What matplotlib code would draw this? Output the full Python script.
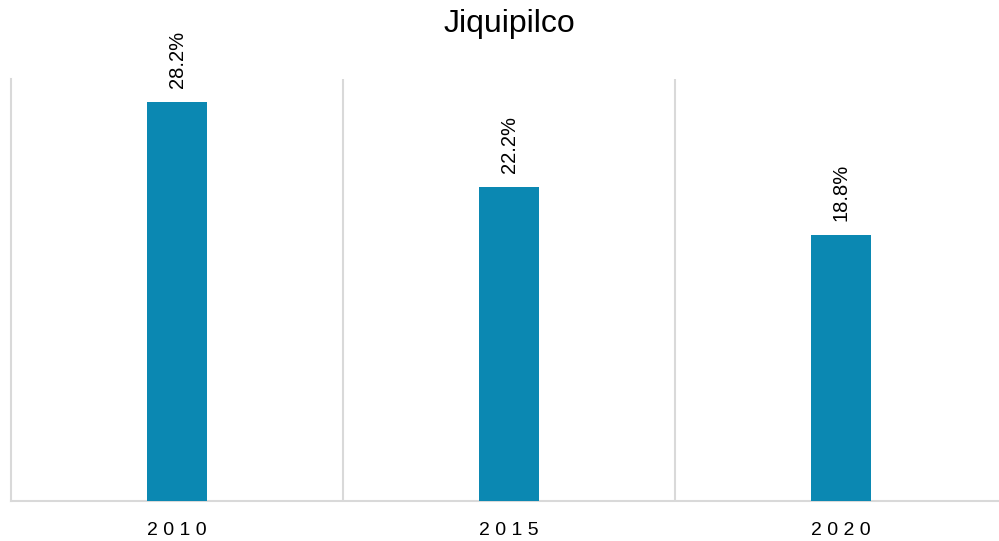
import numpy as np
import matplotlib.pyplot as plt

plt.rcParams['font.family'] = ['Liberation Sans', 'DejaVu Sans']

years = ['2010', '2015', '2020']
values = [28.2, 22.2, 18.8]
labels = ['28.2%', '22.2%', '18.8%']

fig = plt.figure(figsize=(9.99, 5.41), dpi=100)
ax = fig.add_axes([11/999, 40/541, 996/999, 422/541])

x = np.arange(len(years))
bars = ax.bar(x, values, width=0.18, color='#0B88B2', zorder=3)

for b, lab in zip(bars, labels):
    ax.annotate(lab, (b.get_x() + b.get_width()/2, b.get_height()),
                xytext=(0, 10), textcoords='offset points',
                ha='center', va='bottom', rotation=90, fontsize=14.5, color='#000000')

ax.set_xlim(-0.5, 2.5)
ax.set_ylim(0, 29.8)

# vertical separators between categories
ax.set_xticks(x + 0.5, minor=True)
ax.grid(axis='x', which='minor', color='#D9D9D9', linewidth=1.5)
ax.set_xticks(x)
ax.set_xticklabels([' '.join(y) for y in years], fontsize=14, color='#000000')
ax.tick_params(axis='x', which='both', length=0, pad=15)
ax.set_yticks([])

for s in ['top', 'right']:
    ax.spines[s].set_visible(False)
ax.spines['left'].set_color('#D9D9D9')
ax.spines['left'].set_linewidth(1.5)
ax.spines['bottom'].set_color('#D9D9D9')
ax.spines['bottom'].set_linewidth(1.5)

fig.text(509/999, 1 - 24/541, 'Jiquipilco', ha='center', va='center', fontsize=23)

fig.savefig('out.png', dpi=100)
